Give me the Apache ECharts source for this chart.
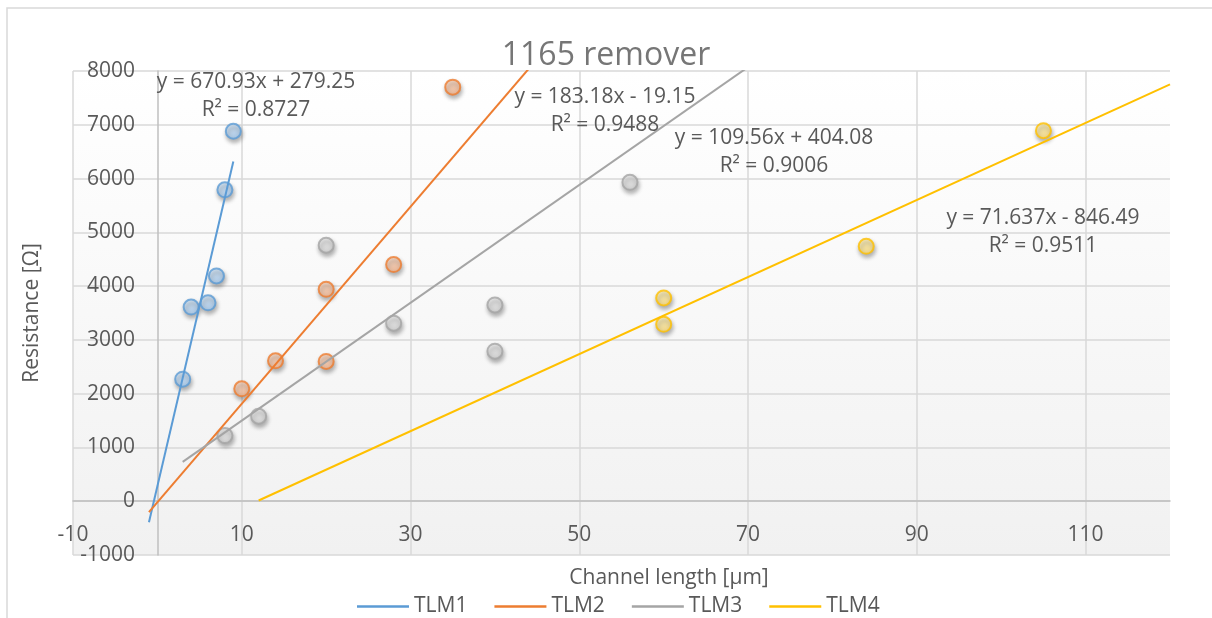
<!DOCTYPE html>
<html>
<head>
<meta charset="utf-8">
<title>1165 remover</title>
<script src="https://cdn.jsdelivr.net/npm/echarts@6/dist/echarts.min.js"></script>
<style>
  html, body { margin: 0; padding: 0; background: #ffffff; }
  #chart { width: 1212px; height: 618px; }
</style>
</head>
<body>
<div id="chart"></div>
<script>
// Measured resistance versus channel length for each TLM structure
const seriesNames = ['TLM1', 'TLM2', 'TLM3', 'TLM4'];

const tlm1X = [3, 4, 6, 7, 8, 9];
const tlm1Y = [2270, 3610, 3690, 4190, 5790, 6880];

const tlm2X = [10, 14, 20, 20, 28, 35];
const tlm2Y = [2090, 2610, 3940, 2600, 4400, 7700];

const tlm3X = [8, 12, 20, 28, 40, 40, 56];
const tlm3Y = [1220, 1580, 4760, 3310, 3650, 2790, 5930];

const tlm4X = [60, 60, 84, 105];
const tlm4Y = [3780, 3290, 4740, 6890];

// Linear fits (slope, intercept, R²) and the x span over which each fit line is drawn
const fitSlope = [670.93, 183.18, 109.56, 71.637];
const fitIntercept = [279.25, -19.15, 404.08, -846.49];
const fitR2 = ['0.8727', '0.9488', '0.9006', '0.9511'];
const fitStart = [-1, -1, 3, 12];
const fitEnd = [9, 50, 75, 120];

// Axis ranges
const xMin = -10, xMax = 120, xStep = 20;
const yMin = -1000, yMax = 8000, yStep = 1000;

const lineColors = ['#5b9bd5', '#ed7d31', '#a5a5a5', '#ffc000'];
const fillTop = ['#dcecfb', '#fde0cd', '#f5f5f5', '#fff5c4'];
const fillBottom = ['#a9cdf1', '#f7b993', '#d9d9d9', '#ffe080'];

const xs = [tlm1X, tlm2X, tlm3X, tlm4X];
const ys = [tlm1Y, tlm2Y, tlm3Y, tlm4Y];

const textColor = '#595959';
const fontFamily = '"Open Sans", "Noto Sans", sans-serif';

const chart = echarts.init(document.getElementById('chart'), null, { renderer: 'canvas' });

const series = [];
seriesNames.forEach((name, i) => {
  series.push({
    name: name + ' data',
    type: 'scatter',
    data: xs[i].map((x, k) => [x, ys[i][k]]),
    symbol: 'circle',
    symbolSize: 15,
    z: 3,
    itemStyle: {
      color: {
        type: 'linear', x: 0, y: 0, x2: 0.4, y2: 1,
        colorStops: [{ offset: 0, color: fillTop[i] }, { offset: 1, color: fillBottom[i] }]
      },
      borderColor: lineColors[i],
      borderWidth: 2,
      shadowColor: 'rgba(0,0,0,0.35)',
      shadowBlur: 4,
      shadowOffsetX: 1,
      shadowOffsetY: 3
    },
    emphasis: { disabled: true }
  });
});
seriesNames.forEach((name, i) => {
  const m = fitSlope[i], b = fitIntercept[i];
  series.push({
    name: name,
    type: 'line',
    data: [[fitStart[i], m * fitStart[i] + b], [fitEnd[i], m * fitEnd[i] + b]],
    showSymbol: false,
    symbol: 'none',
    clip: true,
    z: 4,
    lineStyle: { color: lineColors[i], width: 2 },
    itemStyle: { color: lineColors[i] },
    emphasis: { disabled: true }
  });
});

function eqText(i) {
  const b = fitIntercept[i];
  return 'y = ' + fitSlope[i] + 'x ' + (b < 0 ? '- ' : '+ ') + Math.abs(b);
}

// Where each fit equation is printed on the canvas
const eqPos = [[256, 82], [605, 97], [774, 138], [1043, 218]];
const lineGap = 28;
const annFont = '21px ' + fontFamily;

const graphics = [
  {
    type: 'rect', silent: true, z: -10,
    shape: { x: 7, y: 8, width: 1240, height: 700 },
    style: { fill: 'none', stroke: '#d9d9d9', lineWidth: 1.5 }
  },
  {
    type: 'text', silent: true,
    x: 32, y: 313, rotation: Math.PI / 2,
    style: {
      text: 'Resistance [Ω]', fill: textColor, font: annFont,
      textAlign: 'center', textVerticalAlign: 'middle'
    }
  },
  {
    type: 'text', silent: true,
    x: 669, y: 578,
    style: {
      text: 'Channel length [µm]', fill: textColor, font: annFont,
      textAlign: 'center', textVerticalAlign: 'middle'
    }
  }
];
seriesNames.forEach((name, i) => {
  graphics.push({
    type: 'text', silent: true, z: 10,
    x: eqPos[i][0], y: eqPos[i][1],
    style: { text: eqText(i), fill: textColor, font: annFont, textAlign: 'center', textVerticalAlign: 'middle' }
  });
  graphics.push({
    type: 'text', silent: true, z: 10,
    x: eqPos[i][0], y: eqPos[i][1] + lineGap,
    style: { text: 'R² = ' + fitR2[i], fill: textColor, font: annFont, textAlign: 'center', textVerticalAlign: 'middle' }
  });
});

// x split lines fall at -10, 10, ..., 110 and also at the 120 edge; hide the edge one
const xSplitColors = [];
for (let v = xMin; v < xMax; v += xStep) xSplitColors.push('#d9d9d9');
xSplitColors.push('rgba(0,0,0,0)');

const option = {
  animation: false,
  backgroundColor: '#ffffff',
  textStyle: { fontFamily: fontFamily },
  title: {
    text: '1165 remover',
    left: 'center',
    top: 35,
    textStyle: { color: '#767676', fontSize: 32, fontWeight: 'normal', fontFamily: fontFamily }
  },
  legend: {
    data: seriesNames,
    bottom: -4,
    left: 352,
    icon: 'rect',
    itemWidth: 52,
    itemHeight: 2.5,
    itemGap: 27,
    textStyle: { color: textColor, fontSize: 21, fontFamily: fontFamily },
    selectedMode: false
  },
  grid: {
    left: 73, right: 42, top: 71, bottom: 63,
    show: true,
    borderWidth: 0,
    containLabel: false,
    outerBoundsMode: 'none',
    backgroundColor: {
      type: 'linear', x: 0, y: 0, x2: 0, y2: 1,
      colorStops: [{ offset: 0, color: '#ffffff' }, { offset: 1, color: '#f1f1f1' }]
    }
  },
  xAxis: {
    type: 'value',
    min: xMin, max: xMax, interval: xStep,
    axisLine: { show: true, onZero: true, lineStyle: { color: '#bfbfbf', width: 1.5 } },
    axisTick: { show: false },
    axisLabel: {
      show: true, margin: -30, color: textColor, fontSize: 21, fontFamily: fontFamily,
      showMaxLabel: false, showMinLabel: true
    },
    splitLine: { show: true, lineStyle: { color: xSplitColors, width: 1.5 } }
  },
  yAxis: {
    type: 'value',
    min: yMin, max: yMax, interval: yStep,
    axisLine: { show: true, onZero: true, lineStyle: { color: '#bfbfbf', width: 1.5 } },
    axisTick: { show: false },
    axisLabel: {
      show: true, margin: -62, color: textColor, fontSize: 21, fontFamily: fontFamily,
      formatter: v => String(v)
    },
    splitLine: { show: true, lineStyle: { color: '#d9d9d9', width: 1.5 } }
  },
  graphic: graphics,
  series: series
};

chart.setOption(option);
</script>
</body>
</html>
